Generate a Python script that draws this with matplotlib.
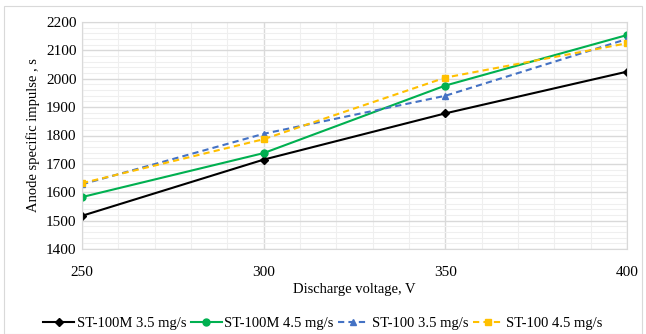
import matplotlib.pyplot as plt
from matplotlib.ticker import MultipleLocator
from matplotlib.patches import Rectangle

plt.rcParams['font.family'] = ['Liberation Serif', 'DejaVu Serif']

voltage = [250, 300, 350, 400]
st100m_35 = [1517, 1715, 1878, 2025]
st100m_45 = [1583, 1738, 1976, 2154]
st100_35 = [1628, 1806, 1940, 2140]
st100_45 = [1632, 1787, 2004, 2125]

fig = plt.figure(figsize=(6.46, 3.34), dpi=100)
ax = fig.add_axes([82 / 646, 1 - 249 / 334, 545 / 646, 227 / 334])

ax.plot(voltage, st100m_35, color='black', lw=1.5, marker='D', ms=4,
        label='ST-100M 3.5 mg/s')
ax.plot(voltage, st100m_45, color='#00b050', lw=1.5, marker='o', ms=5,
        label='ST-100M 4.5 mg/s')
ax.plot(voltage, st100_35, color='#4472c4', lw=1.5, ls=(0, (3, 2)), marker='^', ms=5,
        label='ST-100 3.5 mg/s')
ax.plot(voltage, st100_45, color='#ffc000', lw=1.5, ls=(0, (3, 2)), marker='s', ms=5,
        label='ST-100 4.5 mg/s')

ax.set_xlim(250, 400)
ax.set_ylim(1400, 2200)
ax.xaxis.set_major_locator(MultipleLocator(50))
ax.xaxis.set_minor_locator(MultipleLocator(10))
ax.yaxis.set_major_locator(MultipleLocator(100))
ax.yaxis.set_minor_locator(MultipleLocator(20))
ax.grid(which='major', color='#d9d9d9', lw=1.0)
ax.grid(which='minor', color='#efefef', lw=0.8)
ax.set_axisbelow(True)
for s in ax.spines.values():
    s.set_color('#d9d9d9')
ax.tick_params(which='both', length=0, labelsize=11, colors='black')
ax.tick_params(axis='x', pad=12)
ax.tick_params(axis='y', pad=4)

ax.set_xlabel('Discharge voltage, V', fontsize=10.5, labelpad=3)
ax.set_ylabel('Anode specific impulse , s', fontsize=10.5, labelpad=4)

fig.legend(loc='center', bbox_to_anchor=(0.5, 1 - 323 / 334), ncol=4, frameon=False,
           fontsize=10.5, handlelength=2.1, columnspacing=0.3, handletextpad=0.2)

fig.patches.append(Rectangle((4 / 646, 0.0), 1 - 8 / 646, 1 - 6 / 334, transform=fig.transFigure,
                             fill=False, edgecolor='#d9d9d9', lw=0.8))

fig.savefig('out.png', dpi=100)
